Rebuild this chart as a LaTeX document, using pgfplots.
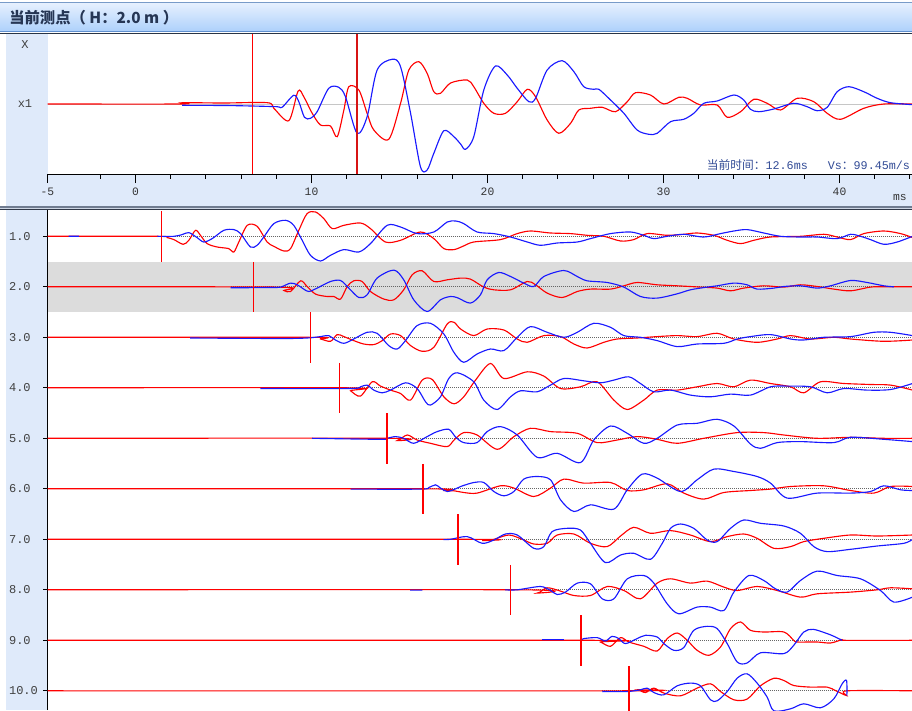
\documentclass[border=0pt]{standalone}
\usepackage{pgfplots}
\pgfplotsset{compat=1.18}
\usepackage{pgfplotstable}
\usepackage{fontspec}
\setmainfont{Liberation Sans}
\newfontfamily\cjk{Noto Sans CJK SC}
\newfontfamily\mono{Liberation Mono}
\definecolor{stripblue}{RGB}{223,234,250}
\definecolor{wblue}{RGB}{25,25,255}
\definecolor{wred}{RGB}{255,0,0}
\definecolor{darkred}{RGB}{215,20,20}
\definecolor{titletext}{RGB}{38,54,84}
\definecolor{infotext}{RGB}{50,75,150}
\definecolor{band}{RGB}{220,220,220}
\definecolor{barTop}{RGB}{230,240,254}
\definecolor{barBot}{RGB}{172,208,251}
\definecolor{barlineA}{RGB}{120,155,200}
\definecolor{barlineB}{RGB}{96,144,208}
\definecolor{barlineC}{RGB}{40,52,70}
\definecolor{sepfill}{RGB}{205,214,228}
\definecolor{seplineA}{RGB}{112,124,144}
\definecolor{seplineB}{RGB}{48,56,72}

% ---------------- top panel (H = 2.0 m) ----------------
\pgfplotstableread{
t v
-5 0
2.6 0
2.7 1.3
5 1.0
7.5 1.3
7.86 -4.3
8.71 -16.7
9.24 13
9.56 7.3
10.04 -9.3
10.51 -21
11.08 -22
11.46 -32.7
11.84 -6
12.12 17.3
12.69 14
13.16 -9.3
13.54 -26
14.39 -35.3
15.06 0.7
15.53 34
16.1 42.3
16.57 30.7
16.95 12.3
17.33 10.7
17.9 21
18.85 24
19.22 17.3
19.79 0.7
20.36 -9.3
21.02 -9.3
21.69 2.3
22.26 14.7
22.73 7.3
23.39 -16
24.05 -29.3
24.72 -19.3
25.19 -6
25.85 -4.3
26.52 -3.3
27.27 -7.7
27.94 2.3
28.41 11.3
29.26 9
30.02 0
30.87 6.7
31.35 5.7
32.1 -1
33.05 -1
33.62 -13.3
34.38 -7.7
35.13 4.7
35.89 0.7
36.65 -6
37.6 5.7
38.54 2.3
39.3 -9.3
40.06 -15.3
41.38 -4.3
42.52 0
44.15 0
}\topR
\pgfplotstableread{
t v
2.65 -1.3
5 -1.5
6.6 -2
8.05 -2.7
8.33 -3.3
8.99 8.7
9.28 2.3
9.6 -13.3
9.94 -14.3
10.32 -7.7
10.98 15.7
11.55 16.7
11.93 7.3
12.59 -29.3
13.16 -12.7
13.73 34
14.58 44.7
15.06 37.3
15.63 -9.3
16.19 -62.7
16.57 -66
16.95 -49.3
17.52 -26.7
18.09 -32.7
18.47 -40
18.75 -45.3
19.22 -32.7
19.79 14
20.45 38
21.12 29
21.69 15.7
22.35 2.3
22.73 5.7
23.39 34
24.24 43.3
24.91 32.3
25.47 17.3
26.04 14.7
26.33 14.7
26.99 4
27.75 -9.3
28.5 -26
29.17 -30.3
29.64 -29.3
30.4 -17.7
31.15 -15.3
31.72 -9.3
32.29 0.7
33.05 3
34.0 9
34.56 4
34.94 -5.3
35.42 -7.7
36.27 -5
37.4 0.7
38.16 -2.7
38.73 -6.7
39.3 -3.3
39.87 12.3
40.53 17.3
41.38 12.3
42.14 5.7
42.9 1.3
44.15 -0.7
}\topB

% ---------------- rows 1.0 ... 10.0 ----------------
\pgfplotstableread{
t v
-3.8 0
-3.2 0
-3.1 nan
1.24 0
2.18 0
2.65 1.7
3.03 3.7
3.5 -1.3
3.88 -5.7
4.36 -2.3
5.02 6
5.59 6.7
5.97 2.7
6.53 -10.7
6.91 -9
7.29 -0.7
7.86 12.7
8.52 16
8.99 11
9.47 -4
9.94 -19
10.51 -24.7
11.08 -19
11.84 -13.3
12.69 -15.7
13.35 -7.3
14.3 11
15.06 9.3
16.0 2.7
16.95 4.3
17.71 14.3
18.2 15.3
18.65 12.7
19.41 4.3
20.36 2.7
21.31 -0.7
22.26 -5.7
23.01 -9
23.96 -6.7
25.1 -5.7
25.85 -2.3
26.99 2.7
28.13 4.3
28.88 1
29.45 -2.3
30.21 0
31.15 2
32.29 -0.7
33.24 2.7
34.0 5.3
34.75 6.7
35.7 3.3
36.65 0
37.78 -0.7
38.73 -0.7
39.87 -2.3
40.63 2
41.19 0
41.76 -3.3
42.52 -8
43.28 -5.7
44.15 0
}\bA
\pgfplotstableread{
t v
-5 0
1.24 0
1.8 -1.3
2.18 -3.3
2.71 -8
3.03 -4
3.41 6
3.69 1
4.07 -7.3
4.64 -10.7
5.3 -12.3
5.59 -15.7
5.87 -5.7
6.35 11
6.91 10
7.48 -5.7
7.86 -10
8.43 -14.7
8.81 -12.3
9.28 6
9.75 22.7
10.23 24.3
10.7 17.7
11.18 7.7
11.84 11
12.78 13.3
13.35 7.7
14.2 -5.7
15.06 -4
16.19 4.3
16.95 -2.3
17.52 -12.3
18.1 -13.3
18.6 -10
19.22 -5.7
20.74 -3.3
21.69 2.7
22.44 5.3
23.58 3.3
24.72 2.7
25.66 1
26.61 0
27.56 -4.7
28.31 -3.3
29.07 2.7
30.21 1
31.15 2
31.91 3.3
32.86 1
33.62 -4
34.38 -7.3
35.13 -4
36.08 -0.7
37.78 0
39.11 2
39.87 -0.7
40.63 -3.3
41.38 2.7
42.52 5.3
43.47 2.7
44.15 -1.3
}\rA
\pgfplotstableread{
t v
5.4 -1
7.67 -0.7
8.24 -0.3
8.81 3.7
9.19 2
9.56 -2.3
9.85 -4.7
10.32 -1.3
11.08 5.3
11.65 6.3
12.12 -1.3
12.69 -10.7
13.16 -8
13.73 8.7
14.68 16.7
15.24 7
15.81 -13
16.57 -24.7
17.33 -13
17.9 -9.7
18.3 -11
19.03 -16.3
19.6 -8
19.98 7
20.64 14.3
21.31 10.3
22.06 3.7
22.63 0.3
23.2 10.3
24.34 16.3
25.1 10.3
25.66 6
26.8 4.3
27.75 -0.3
28.69 -9.7
29.64 -11.3
30.78 -7
31.53 -3
32.48 -0.3
33.05 1
34.0 3.7
34.75 2
35.32 -2.3
36.27 -1.3
36.84 0.3
37.78 1
38.73 -1.3
39.49 1
40.63 6.3
41.57 4.3
42.52 1
43.09 0
}\bB
\pgfplotstableread{
t v
-5 0
8.05 -0.3
8.43 -3.7
8.81 -4.7
9.38 6
9.75 0.3
10.23 -7.3
10.89 -9.7
11.27 -9.7
11.65 -12.3
12.03 0.3
12.4 6
12.88 5.3
13.35 -4.7
14.11 -12.3
14.68 -13
15.24 -3
15.72 12
16.29 16
16.95 5.3
17.71 7
18.47 8.7
19.03 7.7
19.79 -0.3
20.36 -3
21.31 -3
22.26 5.3
22.73 2
23.39 -6.3
24.24 -10.7
25.1 -4.7
25.85 -2.3
26.99 -2.3
27.75 1
28.5 4.3
29.64 2
30.78 1
32.1 -0.3
33.05 -1.3
33.81 -4
34.56 -1.3
35.7 1
36.84 -0.3
37.78 2
38.73 0.3
39.68 -2.3
40.63 -4
41.76 -0.3
42.5 0
44.15 0
}\rB
\pgfplotstableread{
t v
3.1 -0.7
8.24 -1.2
9.75 -0.7
10.51 0.7
10.98 1.7
11.36 -2.7
11.84 -6
12.4 -1.7
13.16 5
13.73 4
14.39 -8.3
14.87 -11.7
15.34 -3.3
16.0 11.7
16.76 14
17.52 3.3
18.09 -15
18.65 -25
19.41 -16.7
20.17 -11.7
20.93 -13.3
21.69 0
22.44 10.7
23.39 5
24.34 0
25.1 5
26.04 14
26.99 10
27.75 1.7
28.69 0
29.64 -3.3
30.78 -9.3
31.91 -6.7
33.43 -6
34.19 -1.7
34.94 0.7
36.08 2.7
37.22 -1.7
37.97 -2.7
39.11 0
40.63 0.7
41.95 5
42.9 5
44.15 1.7
}\bC
\pgfplotstableread{
t v
-5 0
9.8 0
10.51 -1.7
11.08 -4
11.46 2.7
11.84 0.7
12.4 -3.3
12.97 -6.7
13.54 -7.3
14.02 -3.3
14.49 3.3
15.06 1.7
15.63 -8.3
16.29 -14
16.95 -10
17.71 13.3
18.1 15
18.47 8.3
19.22 1.7
19.98 8.3
20.93 7.3
21.69 -1.7
22.26 -5
23.2 1.7
24.15 0.7
24.91 -6.7
25.66 -10.7
26.61 -5
27.37 -1.7
28.5 -0.7
29.64 0.7
30.78 1.7
31.91 0.7
33.05 4
34.0 -1.7
35.32 -5
36.46 -1.7
37.22 1.7
38.35 -1.7
39.68 0
40.63 -1.7
42.52 -4
44.15 -2.7
}\rC
\pgfplotstableread{
t v
7.1 -0.7
12.2 -0.7
12.78 1
13.16 2.7
13.54 -2.3
14.02 -5
14.49 -2.3
15.34 5
16.0 -0.7
16.48 -14
16.76 -17.3
17.33 -9
17.8 9.3
18.3 15
19.22 6
19.79 -12.3
20.55 -21.7
21.31 -9
21.88 -3
22.82 -4
23.58 2.7
24.34 9.3
25.47 7
26.42 5
27.18 7.7
28.03 11
28.69 4.3
29.45 -4
30.4 -2.3
31.53 -7.3
32.67 -9
33.81 -6.3
34.94 -7.3
36.08 1
37.03 1.7
38.35 1
39.3 -5
40.25 -0.7
41.57 -2.3
42.9 -1.7
44.15 4.3
}\bD
\pgfplotstableread{
t v
-5 0
12.0 0
12.22 -3
12.78 -8.3
13.45 6
13.92 1.7
14.49 -2.3
15.06 -5.7
15.63 -12.3
16.29 7.7
16.86 8.3
17.52 -9
18.1 -16
18.65 -9
19.32 7.7
20.17 24.3
20.93 9.3
22.26 16
23.2 11.7
24.15 -0.7
25.28 1
26.23 6
27.18 -12.3
27.94 -21.7
28.88 -12.3
29.64 -2.3
30.78 -2.3
31.91 1
33.05 4.3
34.0 1
34.94 7.7
36.08 4.3
37.22 1
37.97 -5
38.92 6
40.25 4.3
41.76 3.3
42.9 2.7
44.15 -2.3
}\rD
\pgfplotstableread{
t v
10.04 0
13.92 -1
14.3 0
14.77 1.7
15.24 0
15.81 -5
16.57 1.7
17.14 6.7
17.8 9
18.2 1
18.65 -4.3
19.41 -4.3
19.98 6.7
20.74 11.7
21.69 3.3
22.82 -19
23.96 -15
25.28 -24.3
26.04 -1.7
26.99 12.3
27.94 5
28.88 -5
29.64 0
30.78 13.3
31.91 15
33.05 19
34.0 12.3
34.94 -5.7
35.51 -10
36.46 -4.3
37.78 -3.3
39.68 -4.3
40.63 1
42.52 -1
44.15 -3.3
}\bE
\pgfplotstableread{
t v
-5 0
14.3 0
14.87 -2.3
15.44 3.3
16.0 -1.7
16.76 -5
17.71 -8.3
18.1 -1.7
18.65 5.7
19.41 3.3
20.55 -11
21.5 1.7
22.44 10
23.58 6.7
25.1 5
26.23 -4.3
27.37 -1.7
28.5 1.7
29.64 -1
30.78 -5
32.29 0
34.19 5.7
35.7 5.7
36.84 3.3
38.73 0
40.63 1
42.52 0
44.15 0
}\rE
\pgfplotstableread{
t v
12.22 -0.3
16.2 -0.3
16.67 1.3
17.05 4
17.33 0.7
17.71 -2.7
18.2 0
18.47 2.3
19.22 6.3
19.79 6.3
20.36 -2.7
20.93 -7
21.5 -2.7
22.06 9.7
22.82 12.3
23.58 9
24.15 -11
24.91 -22.7
25.85 -16
27.18 -20.3
27.94 -1
28.79 14.7
29.64 10.7
30.97 -2.7
31.91 9
32.86 19.7
34.0 17.3
35.32 12.3
36.08 5.7
37.03 -9.3
38.73 -4.3
40.63 -4.3
41.76 -2.7
42.52 3
43.47 -1
44.15 -1.7
}\bF
\pgfplotstableread{
t v
-5 0
16.3 0
17.52 -1.7
18.1 -2
18.65 -3.7
19.41 -4.3
20.74 3
21.5 0.7
22.63 -7.7
23.58 0.7
24.34 9.7
25.47 5.7
26.99 6.3
27.94 -1.7
28.88 -1
30.21 5
31.15 -4.3
32.29 -10.3
33.43 -3.7
34.94 -1.7
36.08 -0.3
37.22 2.3
39.11 3
40.63 -1.7
41.95 -4.3
42.9 2.3
44.15 2.3
}\rF
\pgfplotstableread{
t v
17.5 -0.3
17.9 0
18.85 2.7
19.7 -4
20.36 -0.7
21.02 5.3
21.69 4.3
22.63 -9
23.2 -7.3
23.67 7.7
24.53 11
25.28 9.3
25.85 -4
26.7 -23.3
27.56 -15.7
28.31 -14
29.26 -20
29.93 -4
30.4 11
30.97 15.3
31.72 11
32.48 -0.7
33.05 -2.3
33.81 11
34.56 19.3
35.51 16
36.84 13.3
37.78 6
38.54 -7.3
39.3 -12.3
40.63 -10
42.14 -6.7
43.66 -4
44.15 0
}\bG
\pgfplotstableread{
t v
-5 0
19.03 0
19.7 -1.3
20.36 0
21.21 4.3
21.97 0
22.63 -4.7
23.39 -4
23.96 4.3
24.91 5.3
25.85 -4
26.8 -7.3
27.56 3.3
28.31 12
29.26 6
30.4 8.7
31.53 4.3
32.67 -2.3
33.62 2.7
34.56 5.3
35.32 1
36.27 -9
37.22 -7.3
37.97 -2.3
39.11 1
40.63 4.3
42.14 3.3
44.15 4.3
}\rG
\pgfplotstableread{
t v
15.6 -0.3
16.3 -0.3
16.4 nan
21.0 0
21.69 0
23.01 3.3
23.58 -0.7
23.96 -4.7
24.43 -2.3
25.1 6.7
25.85 6
26.52 -9
27.18 -9
27.94 11
28.88 14.3
29.45 6.7
30.21 -14
30.87 -24
31.91 -17.3
32.67 -17.3
33.43 -20.7
34.0 -2.3
34.85 14.3
35.7 9.3
36.36 1
37.03 -2.3
37.78 9.3
38.73 18.7
39.87 14.3
41.19 11
42.33 -0.7
43.09 -12.3
44.15 -7.3
}\bH
\pgfplotstableread{
t v
-5 0
21.9 0
22.82 -3.3
23.39 2
24.15 -1.3
24.91 -5.7
25.85 -5.7
26.8 3.3
27.75 -0.7
28.69 -9
29.64 6.7
30.4 11
31.53 6.7
32.48 8.7
33.43 2.7
34.19 -0.7
35.32 3.3
36.46 -0.7
37.78 -7.3
38.73 -4
40.63 -2.3
42.14 0
42.9 2
44.15 1
}\rH
\pgfplotstableread{
t v
23.1 0.7
24.34 0.7
24.4 nan
25.3 0
25.47 1.7
26.23 2.7
26.7 -0.7
27.08 4
27.46 1.7
27.84 -3.3
28.5 1.7
28.98 5
29.64 3.3
30.02 -3.3
30.59 -10
31.15 -7.3
31.72 10
32.48 14
33.05 11.7
33.62 -3.3
34.19 -21.7
34.75 -22.7
35.51 -12.5
36.84 -13.3
37.4 -5
37.97 8.3
38.5 11
39.3 6.7
39.68 4
40.15 0
}\bI
\pgfplotstableread{
t v
-5 0
26.0 0
26.42 -1.7
26.99 -6
27.56 2.7
28.03 -1.7
28.88 -6
29.64 -10.7
30.21 1.7
30.78 7.3
31.35 0
31.91 -10
32.58 -15
33.24 -6.7
33.81 11.7
34.38 18.3
34.94 10
35.7 8.3
36.84 8.3
37.4 0
37.6 -1.7
38.73 -1.7
39.49 -2.7
40.15 0.7
40.3 0
44.15 0
}\rI
\pgfplotstableread{
t v
26.52 -0.7
27.94 -0.7
28.69 1
29.07 2.7
29.45 -1.7
30.02 -4
30.78 5
31.53 7.7
32.1 5
32.67 -9
33.05 -10
33.62 -0.7
34.19 12.7
34.75 17
35.32 7.7
35.89 -6.3
36.27 -20
37.22 -18
37.97 -13
38.92 -17
39.68 -8
40.15 7
40.4 10.3
40.42 -4.7
}\bJ
\pgfplotstableread{
t v
-5 0
27.8 0
28.5 1
28.98 -1.7
29.45 2.7
30.02 -2.3
30.97 -5
31.91 2.7
32.67 7
33.24 -0.7
34.0 -9
34.75 -8.3
35.51 5
36.27 12.5
36.84 10.3
37.4 5.3
38.35 3.7
39.3 3.7
39.77 0.3
40.4 -4.7
40.42 0
44.15 0
}\rJ

\newcommand{\trace}[3]{\addplot[#1, line width=0.85pt, smooth, tension=0.5] table[x=t, y expr=\thisrow{v}#3] {#2};}
\newcommand{\dotbase}[3]{\addplot[black!60, line width=0.6pt, dash pattern=on 0.75pt off 0.75pt] coordinates {(#1,#3) (#2,#3)};}
\newcommand{\marker}[3]{\addplot[wred, line width=1.2pt] coordinates {(#1,#2) (#1,#3)};}

\begin{document}
\begin{tikzpicture}
\useasboundingbox (0,0) rectangle (684pt,-532.5pt);
\begin{scope}[x=0.75pt,y=-0.75pt]
  \fill[white] (0,0) rectangle (912,710);
  \shade[top color=barTop,bottom color=barBot] (0,3) rectangle (912,32);
  \draw[barlineA, line width=0.75pt] (0,3) -- (912,3);
  \draw[barlineB, line width=0.75pt] (0,32) -- (912,32);
  \draw[barlineC, line width=0.9pt] (0,33.3) -- (912,33.3);
  \fill[stripblue] (6,34) rectangle (47.5,207);
  \fill[stripblue] (6,174) rectangle (912,206.5);
  \fill[sepfill] (0,206.5) rectangle (912,210);
  \draw[seplineA, line width=0.9pt] (0,207) -- (912,207);
  \draw[seplineB, line width=0.9pt] (0,209.5) -- (912,209.5);
  \fill[stripblue] (6,210) rectangle (47.5,710);
  \node[anchor=west, inner sep=0pt, text=titletext, font=\cjk\bfseries\fontsize{11.5}{12}\selectfont] at (9,17.5) {当前测点（ H：2.0 m ）};
  \node[inner sep=0pt, text=black!75, font=\mono\fontsize{9}{9}\selectfont] at (25,45) {X};
  \node[inner sep=0pt, text=black!75, font=\mono\fontsize{9}{9}\selectfont] at (25,104) {x1};
\end{scope}

% ---------- top waveform panel ----------
\begin{axis}[
  at={(35.625pt,-130.5pt)}, anchor=south west,
  scale only axis, width=648.375pt, height=105pt,
  xmin=-5, xmax=44.12, ymin=-70, ymax=70,
  axis x line*=bottom, axis y line=none,
  axis line style={-, black, line width=0.75pt},
  tick align=outside,
  xtick={-5,0,10,20,30,40},
  xticklabels={-5,0,10,20,30,40},
  minor xtick={-2,2,4,6,8,12,14,16,18,22,24,26,28,32,34,36,38,42,44},
  major tick length=6.75pt, minor tick length=3.4pt,
  xtick style={black, line width=0.75pt},
  xticklabel style={font=\mono\fontsize{8.5}{9}\selectfont, text=black!80},
  xlabel={ms},
  xlabel style={at={(rel axis cs:0.986,-0.17)}, anchor=center, font=\mono\fontsize{8.5}{9}\selectfont, text=black!80},
  clip=true,
]
\addplot[gray!45, line width=0.75pt] coordinates {(-5,0) (44.12,0)};
\addplot[wred, line width=0.85pt, smooth, tension=0.5] table[x=t,y=v] {\topR};
\addplot[wblue, line width=0.85pt, smooth, tension=0.5] table[x=t,y=v] {\topB};
\addplot[wred, line width=1.2pt] coordinates {(6.64,-70) (6.64,70)};
\addplot[darkred, line width=1.2pt] coordinates {(12.6,-70) (12.6,70)};
\node[anchor=east, inner sep=0pt, text=infotext, font=\fontsize{8.8}{9}\selectfont] at (rel axis cs:0.998,0.064)
  {{\cjk 当前时间：}{\mono 12.6ms}\hspace{15pt}{\mono Vs}{\cjk ：}{\mono 99.45m/s}};
\end{axis}

% ---------- bottom multi-trace panel ----------
\begin{axis}[
  at={(35.625pt,-532.5pt)}, anchor=south west,
  scale only axis, width=648.375pt, height=375pt,
  xmin=-5, xmax=44.12, ymin=-710, ymax=-210,
  axis x line=none, axis y line*=left,
  axis line style={-, black, line width=0.75pt},
  tick align=outside,
  ytick={-236.3,-286.8,-337.3,-387.8,-438.3,-488.8,-539.3,-589.8,-640.3,-690.8},
  yticklabels={1.0,2.0,3.0,4.0,5.0,6.0,7.0,8.0,9.0,10.0},
  major tick length=3pt,
  ytick style={black, line width=0.75pt},
  yticklabel style={font=\mono\fontsize{9}{9}\selectfont, text=black!75, anchor=west, inner sep=0pt, xshift=-26pt},
  unbounded coords=jump,
  clip=true,
]
\addplot[fill=band, draw=none] coordinates {(-5,-261.7) (44.12,-261.7) (44.12,-312.3) (-5,-312.3)} -- cycle;
\dotbase{-3.8}{44.12}{-236.3}
\dotbase{5.4}{43.1}{-286.8}
\dotbase{3.1}{44.12}{-337.3}
\dotbase{7.1}{44.12}{-387.8}
\dotbase{10.0}{44.12}{-438.3}
\dotbase{12.2}{44.12}{-488.8}
\dotbase{17.5}{44.12}{-539.3}
\dotbase{15.6}{44.12}{-589.8}
\dotbase{23.1}{40.15}{-640.3}
\dotbase{26.5}{40.4}{-690.8}
\trace{wred}{\rA}{-236.3}
\trace{wblue}{\bA}{-236.3}
\trace{wred}{\rB}{-286.8}
\trace{wblue}{\bB}{-286.8}
\trace{wred}{\rC}{-337.3}
\trace{wblue}{\bC}{-337.3}
\trace{wred}{\rD}{-387.8}
\trace{wblue}{\bD}{-387.8}
\trace{wred}{\rE}{-438.3}
\trace{wblue}{\bE}{-438.3}
\trace{wred}{\rF}{-488.8}
\trace{wblue}{\bF}{-488.8}
\trace{wred}{\rG}{-539.3}
\trace{wblue}{\bG}{-539.3}
\trace{wred}{\rH}{-589.8}
\trace{wblue}{\bH}{-589.8}
\trace{wred}{\rI}{-640.3}
\trace{wblue}{\bI}{-640.3}
\trace{wred}{\rJ}{-690.8}
\trace{wblue}{\bJ}{-690.8}
\marker{1.48}{-211.3}{-261.8}
\marker{6.70}{-261.8}{-312.3}
\marker{9.94}{-312.3}{-362.8}
\marker{11.59}{-362.8}{-413.3}
\marker{14.30}{-413.3}{-463.8}
\marker{16.35}{-463.8}{-514.3}
\marker{18.31}{-514.3}{-564.8}
\marker{21.31}{-564.8}{-615.3}
\marker{25.32}{-615.3}{-665.8}
\marker{28.03}{-665.8}{-716.3}
\end{axis}
\end{tikzpicture}
\end{document}
